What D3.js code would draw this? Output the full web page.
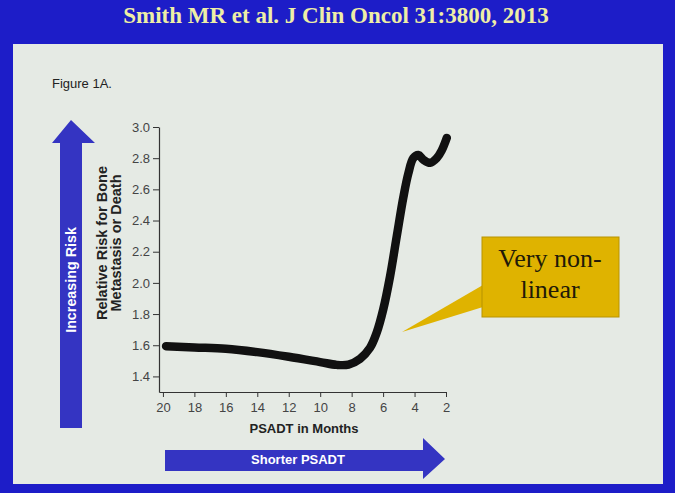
<!DOCTYPE html>
<html>
<head>
<meta charset="utf-8">
<script src="https://cdn.jsdelivr.net/npm/d3@7"></script>
<style>
  html, body { margin: 0; padding: 0; background: #1d1dc8; }
  svg { display: block; }
  .tick text { font-family: "Liberation Sans", Arial, sans-serif; font-size: 13px; fill: #444; }
  .domain, .tick line { stroke: #333; }
</style>
</head>
<body>
<svg id="chart" width="675" height="493"></svg>
<script>
// PSADT (months) and relative risk
var months = [19.8, 18, 16, 14, 12, 10, 8.95, 8.2, 7.47, 6.83, 6.41, 5.99, 5.56, 5.13, 4.71, 4.4, 4.08, 3.76, 3.44, 3.01, 2.59, 2.27, 1.95];
var risk   = [1.594, 1.586, 1.578, 1.556, 1.526, 1.492, 1.474, 1.476, 1.513, 1.584, 1.68, 1.83, 2.04, 2.30, 2.55, 2.70, 2.80, 2.82, 2.79, 2.77, 2.80, 2.85, 2.93];
var xTicks = [20, 18, 16, 14, 12, 10, 8, 6, 4, 2];
var yTicks = [1.4, 1.6, 1.8, 2.0, 2.2, 2.4, 2.6, 2.8, 3.0];

var svg = d3.select("#chart");
var sans = '"Liberation Sans", Arial, sans-serif';
var serif = '"Liberation Serif", "Times New Roman", serif';

// slide background + panel
svg.append("rect").attr("width", 675).attr("height", 493).attr("fill", "#1d1dc8");
svg.append("rect")
  .attr("x", 13).attr("y", 44).attr("width", 650).attr("height", 440)
  .attr("fill", "#e5eae4");

svg.append("text")
  .attr("x", 336).attr("y", 23)
  .attr("text-anchor", "middle")
  .attr("font-family", serif).attr("font-weight", "bold").attr("font-size", 23)
  .attr("fill", "#eeeea6")
  .text("Smith MR et al. J Clin Oncol 31:3800, 2013");

svg.append("text")
  .attr("x", 52).attr("y", 88)
  .attr("font-family", sans).attr("font-size", 13).attr("fill", "#222")
  .text("Figure 1A.");

var xScale = d3.scaleLinear().domain([20.25, 2]).range([159, 446]);
var yScale = d3.scaleLinear().domain([1.3, 3.0]).range([392, 127]);

var xAxis = d3.axisBottom(xScale).tickValues(xTicks).tickSize(5).tickSizeOuter(0).tickFormat(d3.format("d"));
var yAxis = d3.axisLeft(yScale).tickValues(yTicks).tickSize(6).tickSizeOuter(0).tickFormat(d3.format(".1f"));

svg.append("g").attr("transform", "translate(0,392)").call(xAxis)
  .selectAll("text").attr("dy", "0.9em");
svg.append("g").attr("transform", "translate(159,0)").call(yAxis);

svg.selectAll(".domain").attr("stroke-width", 1.2);

var line = d3.line()
  .x(function(d, i) { return xScale(months[i]); })
  .y(function(d) { return yScale(d); })
  .curve(d3.curveCatmullRom.alpha(0.5));

svg.append("path")
  .datum(risk)
  .attr("d", line)
  .attr("fill", "none")
  .attr("stroke", "#111")
  .attr("stroke-width", 8.5)
  .attr("stroke-linecap", "round")
  .attr("stroke-linejoin", "round");

svg.append("text")
  .attr("x", 304).attr("y", 433)
  .attr("text-anchor", "middle")
  .attr("font-family", sans).attr("font-weight", "bold").attr("font-size", 13).attr("fill", "#222")
  .text("PSADT in Months");

var ylab = svg.append("text")
  .attr("transform", "translate(107,243) rotate(-90)")
  .attr("text-anchor", "middle")
  .attr("font-family", sans).attr("font-weight", "bold").attr("font-size", 14.5).attr("fill", "#222");
ylab.append("tspan").attr("x", 0).attr("y", 0).text("Relative Risk for Bone");
ylab.append("tspan").attr("x", 0).attr("y", 14).text("Metastasis or Death");

// blue arrows
var arrowBlue = "#3434c2";
svg.append("path")
  .attr("d", "M60,428 L60,143 L52,143 L71,120 L95,143 L82,143 L82,428 Z")
  .attr("fill", arrowBlue);
svg.append("text")
  .attr("transform", "translate(76,280) rotate(-90)")
  .attr("text-anchor", "middle")
  .attr("font-family", sans).attr("font-weight", "bold").attr("font-size", 14.3).attr("fill", "#fff")
  .text("Increasing Risk");

svg.append("path")
  .attr("d", "M165,450 L423,450 L423,438 L445,459 L423,479 L423,471 L165,471 Z")
  .attr("fill", arrowBlue);
svg.append("text")
  .attr("x", 298).attr("y", 464)
  .attr("text-anchor", "middle")
  .attr("font-family", sans).attr("font-weight", "bold").attr("font-size", 13).attr("fill", "#fff")
  .text("Shorter PSADT");

// callout
svg.append("path")
  .attr("d", "M483,285 L402,332 L483,307 Z")
  .attr("fill", "#dfb300");
svg.append("rect")
  .attr("x", 482).attr("y", 237).attr("width", 137).attr("height", 80)
  .attr("fill", "#dfb300").attr("stroke", "#b89300").attr("stroke-width", 1);
svg.append("text")
  .attr("x", 550).attr("y", 267)
  .attr("text-anchor", "middle")
  .attr("font-family", serif).attr("font-size", 26).attr("fill", "#221a08")
  .text("Very non-");
svg.append("text")
  .attr("x", 550).attr("y", 298)
  .attr("text-anchor", "middle")
  .attr("font-family", serif).attr("font-size", 26).attr("fill", "#221a08")
  .text("linear");
</script>
</body>
</html>
